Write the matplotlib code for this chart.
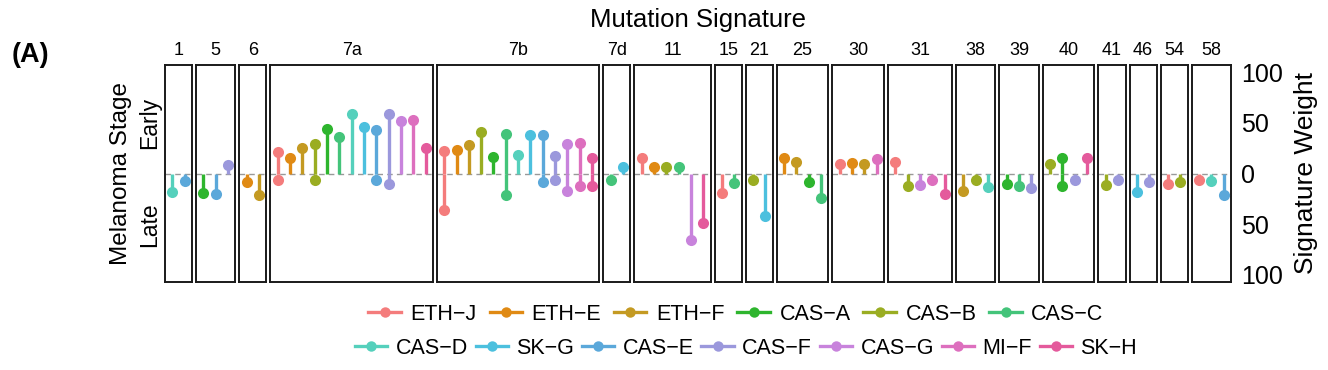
"""
Lollipop chart of mutation signature weights, early vs late melanoma stage.
"""
import numpy as np
import matplotlib
matplotlib.use("Agg")
import matplotlib.pyplot as plt
from matplotlib.lines import Line2D

plt.rcParams["font.family"] = ["Liberation Sans", "DejaVu Sans"]

# facets and number of samples in each
signatures = ["1", "5", "6", "7a", "7b", "7d", "11", "15", "21", "25",
              "30", "31", "38", "39", "40", "41", "46", "54", "58"]

# one entry per lollipop position, grouped by signature
sample_sig = (["1"] * 2 + ["5"] * 3 + ["6"] * 2 + ["7a"] * 13 + ["7b"] * 13
              + ["7d"] * 2 + ["11"] * 6 + ["15"] * 2 + ["21"] * 2 + ["25"] * 4
              + ["30"] * 4 + ["31"] * 5 + ["38"] * 3 + ["39"] * 3 + ["40"] * 4
              + ["41"] * 2 + ["46"] * 2 + ["54"] * 2 + ["58"] * 3)
sample_name = [
    "CAS-D", "CAS-E",
    "CAS-A", "CAS-E", "CAS-F",
    "ETH-E", "ETH-F",
    "ETH-J", "ETH-E", "ETH-F", "CAS-B", "CAS-A", "CAS-C", "CAS-D", "SK-G",
    "CAS-E", "CAS-F", "CAS-G", "MI-F", "SK-H",
    "ETH-J", "ETH-E", "ETH-F", "CAS-B", "CAS-A", "CAS-C", "CAS-D", "SK-G",
    "CAS-E", "CAS-F", "CAS-G", "MI-F", "SK-H",
    "CAS-C", "SK-G",
    "ETH-J", "ETH-E", "CAS-B", "CAS-C", "CAS-G", "SK-H",
    "ETH-J", "CAS-C",
    "CAS-B", "SK-G",
    "ETH-E", "ETH-F", "CAS-A", "CAS-C",
    "ETH-J", "ETH-E", "ETH-F", "MI-F",
    "ETH-J", "CAS-B", "CAS-G", "MI-F", "SK-H",
    "ETH-F", "CAS-B", "CAS-D",
    "CAS-A", "CAS-C", "CAS-F",
    "CAS-B", "CAS-A", "CAS-F", "SK-H",
    "CAS-B", "CAS-F",
    "SK-G", "CAS-F",
    "ETH-J", "CAS-B",
    "ETH-J", "CAS-D", "CAS-E",
]
nan = np.nan
early_weight = [
    nan, nan,
    nan, nan, 8,
    nan, nan,
    21, 15, 25, 29, 44, 36, 59, 46, 43, 58.5, 52, 53, 25,
    22.5, 23, 28, 41, 16, 39, 18.5, 37.5, 37.5, 17.5, 29, 30.5, 15.5,
    nan, 6.5,
    15, 6.5, 6.5, 6.5, nan, nan,
    nan, nan,
    nan, nan,
    15.5, 11.5, nan, nan,
    9, 10, 9, 14.5,
    11, nan, nan, nan, nan,
    nan, nan, nan,
    nan, nan, nan,
    9, 15.5, nan, 15.5,
    nan, nan,
    nan, nan,
    nan, nan,
    nan, nan, nan,
]
late_weight = [
    18, 7.5,
    19, 20.5, nan,
    8.5, 21,
    6, nan, nan, 6.5, nan, nan, nan, nan, 6, 10, nan, nan, nan,
    36, nan, nan, nan, nan, 21.5, nan, nan, 8, 6, 17.5, 12, 12.5,
    6, nan,
    nan, nan, nan, nan, 66, 49,
    19, 9,
    6, 42,
    nan, nan, 8, 24,
    nan, nan, nan, nan,
    nan, 12, 11, 6.5, 20,
    17.5, 6, 13.5,
    10, 12.5, 14,
    nan, 12.5, 6, nan,
    11, 6.5,
    18, 8.5,
    10, 8,
    6.5, 7, 21,
]

legend_names = ["ETH-J", "ETH-E", "ETH-F", "CAS-A", "CAS-B", "CAS-C", "CAS-D",
                "SK-G", "CAS-E", "CAS-F", "CAS-G", "MI-F", "SK-H"]
legend_colors = ["#F47C7C", "#E08A14", "#C49A22", "#2EB52E", "#9AAD22",
                 "#44C47A", "#55D0BC", "#4CC0DE", "#5BA8DA", "#9B98DC",
                 "#C883DC", "#DD6FBE", "#E45A9C"]
color_of = dict(zip(legend_names, legend_colors))

W, H = 1328, 370
fig = plt.figure(figsize=(W / 100, H / 100), dpi=100)

sample_sig = np.array(sample_sig)
sample_name = np.array(sample_name)
early_weight = np.array(early_weight, dtype=float)
late_weight = np.array(late_weight, dtype=float)

counts = [int((sample_sig == s).sum()) for s in signatures]
left_px, right_px, gap_px = 165, 1231, 4
top_px, bot_px = 65, 282
spans = [n + 0.2 for n in counts]
unit = (right_px - left_px - gap_px * (len(signatures) - 1)) / sum(spans)

axes = []
x0 = left_px
for k, sig in enumerate(signatures):
    w = spans[k] * unit
    ax = fig.add_axes([x0 / W, 1 - bot_px / H, w / W, (bot_px - top_px) / H])
    x0 += w + gap_px
    axes.append(ax)

    mask = sample_sig == sig
    names = sample_name[mask]
    e = early_weight[mask]
    l = late_weight[mask]
    xs = np.arange(1, len(names) + 1)
    cols = [color_of[n] for n in names]

    ax.axhline(0, color="#999999", lw=1.0, ls=(0, (4, 3)), zorder=1)
    for x, c, ev, lv in zip(xs, cols, e, l):
        if not np.isnan(ev):
            ax.plot([x, x], [0, ev], color=c, lw=2.4, zorder=2,
                    solid_capstyle="butt")
            ax.plot(x, ev, "o", color=c, ms=8, mec="none", zorder=3)
        if not np.isnan(lv):
            ax.plot([x, x], [0, -lv], color=c, lw=2.4, zorder=2,
                    solid_capstyle="butt")
            ax.plot(x, -lv, "o", color=c, ms=8, mec="none", zorder=3)

    ax.set_xlim(0.4, len(names) + 0.6)
    ax.set_ylim(-107, 107)
    ax.set_xticks([])
    ax.set_yticks([])
    for sp in ax.spines.values():
        sp.set_linewidth(1.4)
        sp.set_color("#1a1a1a")
    ax.set_title(sig, fontsize=13, pad=7)

# left axis: stage labels
first = axes[0]
first.set_yticks([50, -50])
first.set_yticklabels(["Early", "Late"], rotation=90, va="center",
                      fontsize=16.5)
first.tick_params(axis="y", length=0, pad=3)
first.set_ylabel("Melanoma Stage", fontsize=17.5, labelpad=4)

# right axis: weights
last = axes[-1]
last.yaxis.tick_right()
last.yaxis.set_label_position("right")
last.set_yticks([100, 50, 0, -50, -100])
last.set_yticklabels(["100", "50", "0", "50", "100"], fontsize=18)
last.tick_params(axis="y", length=0, pad=7)
last.set_ylabel("Signature Weight", fontsize=19, labelpad=8)

fig.text(698 / W, 1 - 20 / H, "Mutation Signature", ha="center",
         va="center", fontsize=18.5)
fig.text(12 / W, 1 - 55 / H, "(A)", ha="left", va="center", fontsize=19.5,
         fontweight="bold")

handles = [Line2D([0], [0], color=c, lw=2.4, marker="o", ms=7.5, mec="none")
           for c in legend_colors]
labels = [n.replace("-", "\u2212") for n in legend_names]
fig.legend(handles[:6], labels[:6], loc="center", ncol=6, frameon=False,
           bbox_to_anchor=(736 / W, 1 - 314 / H), fontsize=15.5,
           handlelength=1.5, handletextpad=0.45, columnspacing=0.6)
fig.legend(handles[6:], labels[6:], loc="center", ncol=7, frameon=False,
           bbox_to_anchor=(746 / W, 1 - 348 / H), fontsize=15.5,
           handlelength=1.5, handletextpad=0.4, columnspacing=0.35)

fig.savefig("out.png", dpi=100)
